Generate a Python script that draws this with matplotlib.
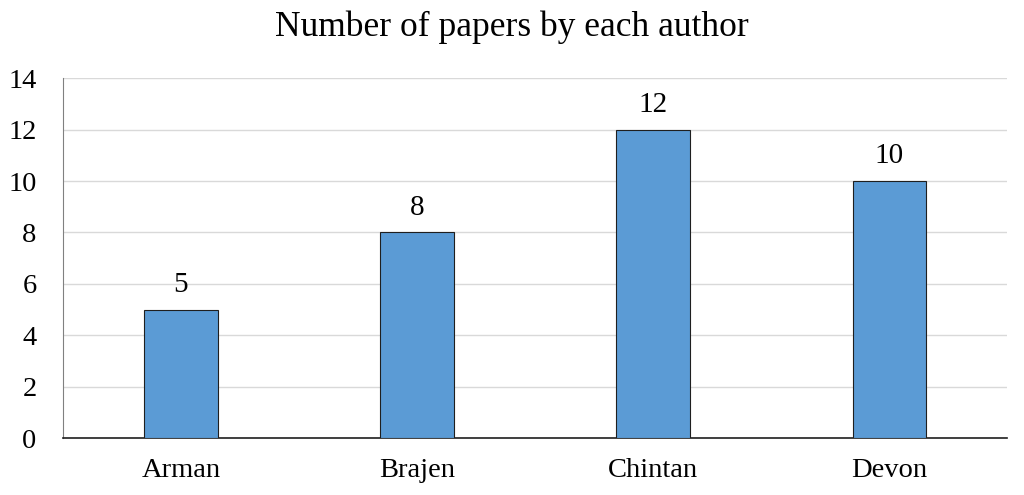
import matplotlib.pyplot as plt

authors = ['Arman', 'Brajen', 'Chintan', 'Devon']
papers = [5, 8, 12, 10]

plt.rcParams['font.family'] = ['Liberation Serif', 'DejaVu Serif']

fig = plt.figure(figsize=(10.24, 4.95), dpi=100)
ax = fig.add_axes([0.0615, 0.115, 0.922, 0.727])

bars = ax.bar(authors, papers, width=0.31, color='#5B9BD5',
              edgecolor='#1f1f1f', linewidth=0.8, zorder=3)
for b, v in zip(bars, papers):
    ax.text(b.get_x() + b.get_width() / 2, v + 0.45, str(v),
            ha='center', va='bottom', fontsize=21)

ax.set_xlim(-0.5, 3.5)
ax.set_ylim(0, 14)
ax.set_yticks(range(0, 15, 2))
ax.grid(axis='y', color='#d9d9d9', linewidth=1, zorder=0)
ax.tick_params(length=0, labelsize=20.5)
ax.tick_params(axis='x', pad=14)
ax.tick_params(axis='y', pad=19)
for s in ['top', 'right']:
    ax.spines[s].set_visible(False)
ax.spines['left'].set_color('#808080')
ax.spines['bottom'].set_color('#1f1f1f')
ax.spines['bottom'].set_linewidth(1.2)
fig.suptitle('Number of papers by each author', fontsize=25.5,
             x=0.5, y=0.945, va='center')

plt.savefig('out.png')
